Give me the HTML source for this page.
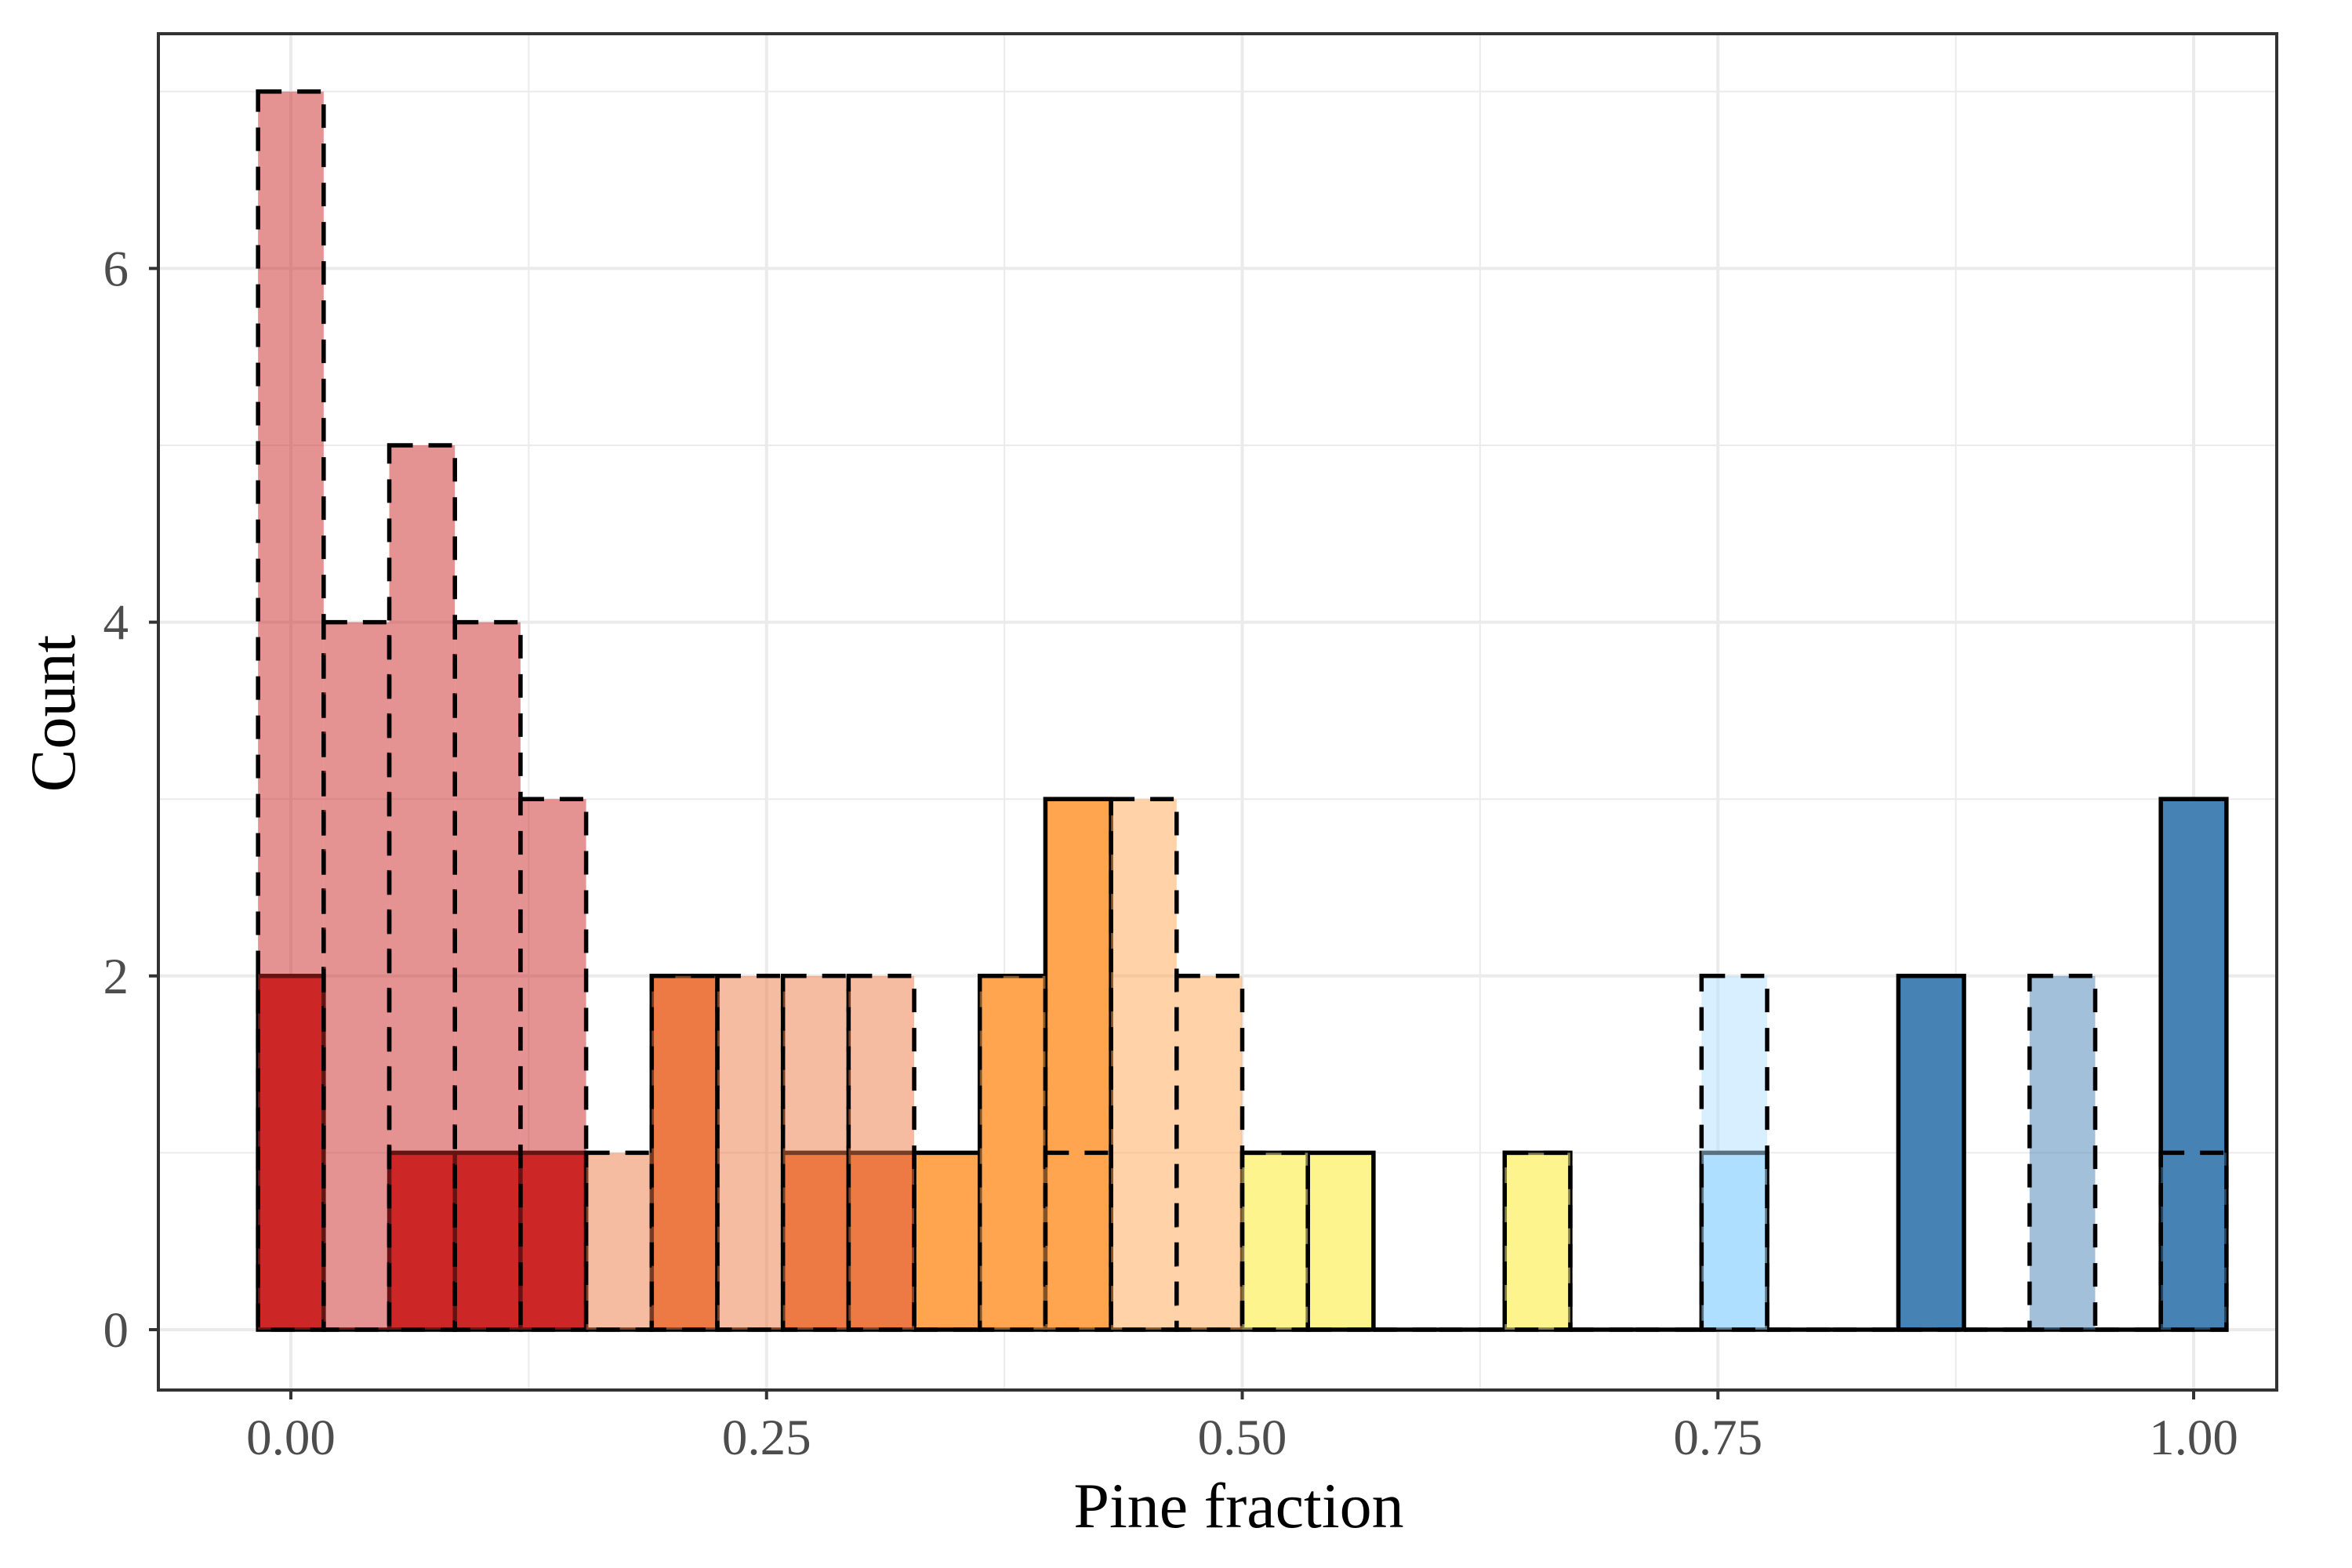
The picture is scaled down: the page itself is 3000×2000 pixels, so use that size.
<!DOCTYPE html>
<html><head><meta charset="utf-8"><style>
html,body{margin:0;padding:0;background:#fff;}
svg{display:block;}
text{font-family:"Liberation Serif",serif;}
</style></head><body>
<svg id="chart" width="3000" height="2000" viewBox="0 0 3000 2000" xmlns="http://www.w3.org/2000/svg">
<rect x="0" y="0" width="3000" height="2000" fill="#fff"/>
<g id="grid"></g>
<g id="solid"></g>
<g id="dashed"></g>
<rect x="202" y="43" width="2702" height="1730" fill="none" stroke="#333" stroke-width="4"/>
<g id="axes"></g>
<text x="1580" y="1948" font-size="82" text-anchor="middle" fill="#000">Pine fraction</text>
<text transform="translate(95,910) rotate(-90)" font-size="82" text-anchor="middle" fill="#000">Count</text>
</svg>
<script>
const binCenters = [0,1,2,3,4,5,6,7,8,9,10,11,12,13,14,15,16,17,18,19,20,21,22,23,24,25,26,27,28,29].map(i=>i/29);
const solidCounts = [2,0,1,1,1,0,2,0,1,1,1,2,3,0,0,1,1,0,0,1,0,0,1,0,0,2,0,0,0,3];
const dashedCounts = [7,4,5,4,3,1,2,2,2,2,0,2,1,3,2,1,0,0,0,1,0,0,2,0,0,0,0,2,0,1];
const groupColors = ["#CC2627","#ED7A45","#FFA54F","#FEF48D","#AFDFFF","#4682B4"];
const xTicks = [0,0.25,0.5,0.75,1];
const xTickLabels = ["0.00","0.25","0.50","0.75","1.00"];
const yTicks = [0,2,4,6];
const yTickLabels = ["0","2","4","6"];
const xMinor = [0.125,0.375,0.625,0.875];
const yMinor = [1,3,5,7];

const NS="http://www.w3.org/2000/svg";
const X0=371, XU=2427, Y0=1696, YU=225.6;
const L=202, R=2904, T=43, B=1773;
const binW = 1/29;
function sx(v){return X0+v*XU;}
function sy(v){return Y0-v*YU;}
function mk(tag, attrs, parent){const e=document.createElementNS(NS,tag);for(const k in attrs)e.setAttribute(k,attrs[k]);parent.appendChild(e);return e;}

const grid=document.getElementById('grid');
xMinor.forEach(v=>{const l=mk('line',{x1:sx(v),x2:sx(v),y1:T,y2:B,stroke:'#EBEBEB','stroke-width':2},grid);

});
yMinor.forEach(v=>{const l=mk('line',{x1:L,x2:R,y1:sy(v),y2:sy(v),stroke:'#EBEBEB','stroke-width':2},grid);

});
xTicks.forEach(v=>{const l=mk('line',{x1:sx(v),x2:sx(v),y1:T,y2:B,stroke:'#EBEBEB','stroke-width':4},grid);

});
yTicks.forEach(v=>{const l=mk('line',{x1:L,x2:R,y1:sy(v),y2:sy(v),stroke:'#EBEBEB','stroke-width':4},grid);

});

function drawLayer(gid, counts, dashed){
  const g=document.getElementById(gid);
  counts.forEach((c,i)=>{
    const x1=sx(binCenters[i]-binW/2), x2=sx(binCenters[i]+binW/2);
    const col=groupColors[Math.floor(i/5)];
    if(c===0){
      const z=mk('line',{x1:x1,x2:x2,y1:sy(0),y2:sy(0),stroke:'#000','stroke-width':5.5},g);
      if(dashed) z.setAttribute('stroke-dasharray','30 20');
      
      
      return;
    }
    const r=mk('rect',{x:x1,y:sy(c),width:x2-x1,height:sy(0)-sy(c),fill:col,'fill-opacity':dashed?0.5:1,stroke:'#000','stroke-width':5.5},g);
    if(dashed) r.setAttribute('stroke-dasharray','30 20');
    
    
  });
}
drawLayer('solid', solidCounts, false);
drawLayer('dashed', dashedCounts, true);

const axes=document.getElementById('axes');
xTicks.forEach((v,i)=>{
  const t=mk('line',{x1:sx(v),x2:sx(v),y1:B,y2:B+12,stroke:'#333','stroke-width':4},axes);
  
  
  const tx=mk('text',{x:sx(v),y:B+82,'font-size':65,'text-anchor':'middle',fill:'#4D4D4D'},axes);
  tx.textContent=xTickLabels[i];
  
  
});
yTicks.forEach((v,i)=>{
  const t=mk('line',{x1:L-12,x2:L,y1:sy(v),y2:sy(v),stroke:'#333','stroke-width':4},axes);
  
  
  const tx=mk('text',{x:L-38,y:sy(v)+22,'font-size':65,'text-anchor':'end',fill:'#4D4D4D'},axes);
  tx.textContent=yTickLabels[i];
  
  
});
</script>
</body></html>
